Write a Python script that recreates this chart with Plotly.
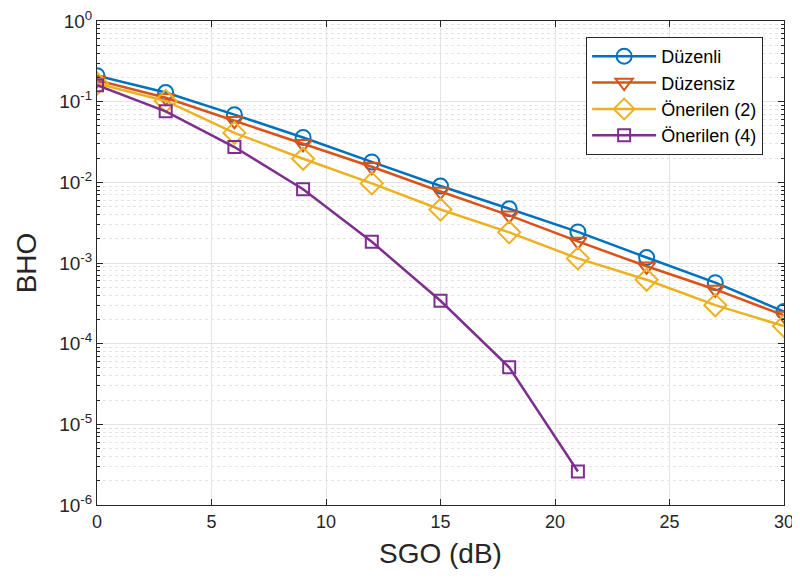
import plotly.graph_objects as go

snr = [0, 3, 6, 9, 12, 15, 18, 21, 24, 27, 30]
duzenli = [0.21, 0.13, 0.069, 0.036, 0.0179, 0.0090, 0.0047, 0.00243, 0.00117, 0.00057, 0.00025]
duzensiz = [0.185, 0.112, 0.058, 0.030, 0.0156, 0.0077, 0.0039, 0.00185, 0.00091, 0.00047, 0.000224]
onerilen2 = [0.168, 0.102, 0.041, 0.0196, 0.0097, 0.0046, 0.0024, 0.00114, 0.00062, 0.00030, 0.000165]
snr4 = [0, 3, 6, 9, 12, 15, 18, 21]
onerilen4 = [0.16, 0.076, 0.0274, 0.0082, 0.00183, 0.00034, 5.1e-5, 2.6e-6]

names = ["Düzenli", "Düzensiz", "Önerilen (2)", "Önerilen (4)"]
colors = ["#0072BD", "#D95319", "#EDB120", "#7E2F8E"]
symbols = ["circle-open", "triangle-down-open", "diamond-open", "square-open"]
sizes = [15, 15, 17, 12]
xs = [snr, snr, snr, snr4]
ys = [duzenli, duzensiz, onerilen2, onerilen4]

fig = go.Figure()
for n, c, s, sz, x, y in zip(names, colors, symbols, sizes, xs, ys):
    fig.add_trace(go.Scatter(
        x=x, y=y, name=n, mode="lines+markers",
        line=dict(color=c, width=2.5),
        marker=dict(symbol=s, size=sz, color=c, line=dict(color=c, width=2)),
    ))

ytickvals = [10.0 ** e for e in range(-6, 1)]
yticktext = ["10<sup>%d</sup>" % e for e in range(-6, 1)]
minor_vals = [k * 10.0 ** e for e in range(-6, 0) for k in range(2, 10)]

font_family = "Liberation Sans, Arial, sans-serif"
fig.update_layout(
    width=792, height=575,
    margin=dict(l=89, r=16, t=13, b=78),
    paper_bgcolor="white", plot_bgcolor="white",
    font=dict(family=font_family, color="#262626", size=16),
    showlegend=True,
    legend=dict(
        x=0.712, y=0.967, xanchor="left", yanchor="top",
        bgcolor="white", bordercolor="#262626", borderwidth=1,
        font=dict(size=18, color="#000000"),
        tracegroupgap=0, itemwidth=64,
    ),
    xaxis=dict(
        range=[0, 30], tickmode="array", tickvals=[0, 5, 10, 15, 20, 25, 30],
        automargin=False, ticklabeloverflow="allow",
        showgrid=True, gridcolor="#E3E3E3", gridwidth=1,
        ticks="inside", ticklen=6, tickcolor="#262626",
        showline=True, linecolor="#262626", linewidth=1, mirror="ticks",
        zeroline=False,
        title=dict(text="SGO (dB)", font=dict(size=28, color="#262626"), standoff=12),
        tickfont=dict(size=18),
    ),
    yaxis=dict(
        type="log", range=[-6, 0], tickmode="array", tickvals=ytickvals, ticktext=yticktext,
        automargin=False, ticklabeloverflow="allow",
        showgrid=True, gridcolor="#E3E3E3", gridwidth=1,
        ticks="inside", ticklen=6, tickcolor="#262626",
        showline=True, linecolor="#262626", linewidth=1, mirror="ticks",
        zeroline=False,
        minor=dict(tickmode="array", tickvals=minor_vals, ticks="inside", ticklen=3,
                   tickcolor="#262626", showgrid=True, gridcolor="#E3E3E3", griddash="dot"),
        title=dict(text="BHO", font=dict(size=28, color="#262626"), standoff=14),
        tickfont=dict(size=19),
    ),
)

fig.write_html("out.html")
